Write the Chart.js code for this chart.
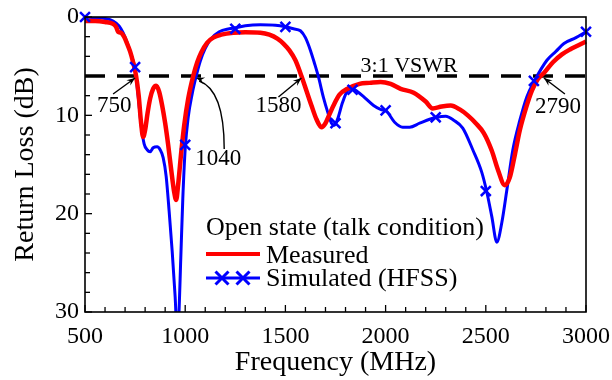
<!DOCTYPE html>
<html>
<head>
<meta charset="utf-8">
<script src="https://cdn.jsdelivr.net/npm/chart.js@4.4.1/dist/chart.umd.min.js"></script>
<style>
  html, body { margin: 0; padding: 0; background: #fff; }
  #chart { display: block; }
</style>
</head>
<body>
<canvas id="chart" width="612" height="380"></canvas>
<script>
// Measured return loss (red curve)
const measFreq = [500, 550, 600, 640, 655, 665, 680, 695, 710, 725, 740, 755, 768, 780, 790, 800, 812, 825, 840, 855,
  870, 885, 900, 915, 930, 945, 955, 965, 980, 995, 1015, 1040, 1060, 1080, 1110, 1140, 1180, 1240, 1300, 1375,
  1420, 1460, 1490, 1520, 1550, 1580, 1605, 1630, 1655, 1680, 1700, 1720, 1740, 1770, 1810, 1870, 1920, 1975, 2025, 2075,
  2140, 2200, 2235, 2280, 2325, 2370, 2410, 2450, 2490, 2530, 2560, 2595, 2620, 2645, 2670, 2700, 2730, 2760, 2790, 2835,
  2880, 2920, 2960, 3000];
const measLoss = [0.4, 0.4, 0.5, 0.7, 1.0, 1.5, 1.6, 2.0, 2.7, 3.5, 4.6, 6.0, 8.0, 10.8, 12.2, 11.5, 9.8, 8.3, 7.3, 7.0,
  7.6, 9.0, 10.8, 13.0, 15.5, 17.8, 18.6, 17.0, 13.8, 11.0, 8.3, 6.0, 4.6, 3.6, 2.6, 2.1, 1.8, 1.6, 1.55, 1.6,
  1.8, 2.2, 2.7, 3.4, 4.4, 6.0, 7.5, 9.0, 10.4, 11.2, 10.8, 9.9, 9.0, 7.9, 7.3, 6.8, 6.7, 6.6, 6.8, 7.3,
  7.7, 8.6, 9.3, 9.1, 9.0, 9.4, 10.0, 10.8, 11.8, 13.6, 15.5, 17.1, 16.3, 14.0, 11.5, 9.3, 7.5, 6.3, 5.7, 4.6,
  3.8, 3.3, 2.9, 2.5];

// Simulated (HFSS) return loss (blue curve)
const simFreq = [500, 550, 600, 640, 670, 690, 710, 730, 750, 765, 780, 795, 810, 825, 840, 860, 875, 890, 905, 920,
  935, 950, 960, 968, 978, 988, 1000, 1015, 1035, 1055, 1075, 1100, 1130, 1170, 1220, 1250, 1300, 1375, 1450, 1500,
  1540, 1575, 1600, 1625, 1645, 1665, 1690, 1710, 1730, 1745, 1760, 1785, 1810, 1835, 1860, 1890, 1940, 1975, 2005, 2045,
  2085, 2120, 2170, 2220, 2255, 2300, 2340, 2385, 2435, 2480, 2505, 2530, 2555, 2580, 2605, 2635, 2670, 2705, 2740, 2805,
  2850, 2890, 2950, 3000];
const simLoss = [0.0, 0.05, 0.15, 0.4, 0.9, 1.6, 2.6, 3.8, 5.3, 8.0, 11.0, 12.9, 13.5, 13.7, 13.3, 13.2, 13.5, 14.3, 16.2, 19.8,
  23.8, 28.5, 32.5, 30.5, 24.5, 18.5, 13.4, 10.2, 7.8, 6.0, 4.5, 3.2, 2.2, 1.5, 1.2, 1.1, 0.9, 0.8, 0.85, 1.0,
  1.2, 1.4, 2.1, 3.4, 4.7, 6.1, 8.2, 9.6, 10.8, 11.0, 10.4, 8.7, 7.5, 7.3, 7.6, 8.1, 9.0, 9.4, 9.6, 10.7,
  11.2, 11.2, 10.8, 10.4, 10.2, 10.1, 10.5, 11.3, 13.5, 15.8, 17.8, 20.3, 22.9, 20.9, 17.6, 13.5, 10.5, 8.1, 6.6, 4.4,
  3.5, 2.7, 2.1, 1.5];

// cross markers on the simulated curve
const markFreq = [500, 750, 1000, 1250, 1500, 1750, 1835, 2000, 2250, 2500, 2740, 3000];
const markLoss = [0.0, 5.1, 13.0, 1.2, 1.0, 10.8, 7.4, 9.5, 10.2, 17.7, 6.5, 1.5];

// 3:1 VSWR reference level
const vswrFreq = [500, 3000];
const vswrLoss = [6, 6];

// band edge call-outs
const edgeFreq = [750, 1040, 1580, 2790];
const edgeLabels = ['750', '1040', '1580', '2790'];

const xTicks = [500, 1000, 1500, 2000, 2500, 3000];
const yTicks = [0, 10, 20, 30];
const seriesNames = ['Measured', 'Simulated (HFSS)'];
const legendTitle = 'Open state (talk condition)';
const vswrText = '3:1 VSWR';

const RED = '#ff0000';
const BLUE = '#0000ff';
const SERIF = '"Liberation Serif", "Times New Roman", serif';

const pts = (xs, ys) => xs.map((v, i) => ({ x: v, y: ys[i] }));

function drawX(ctx, x, y, r) {
    ctx.beginPath();
    ctx.moveTo(x - r, y - r); ctx.lineTo(x + r, y + r);
    ctx.moveTo(x - r, y + r); ctx.lineTo(x + r, y - r);
    ctx.stroke();
}

function arrowHead(ctx, fromX, fromY, toX, toY) {
    const ang = Math.atan2(toY - fromY, toX - fromX);
    const len = 9, wid = 0.38;
    ctx.beginPath();
    ctx.moveTo(toX, toY);
    ctx.lineTo(toX - len * Math.cos(ang - wid), toY - len * Math.sin(ang - wid));
    ctx.lineTo(toX - len * 0.6 * Math.cos(ang), toY - len * 0.6 * Math.sin(ang));
    ctx.lineTo(toX - len * Math.cos(ang + wid), toY - len * Math.sin(ang + wid));
    ctx.closePath();
    ctx.fill();
}

// frame, inward ticks, call-outs and legend
const decorations = {
    id: 'decorations',
    afterDraw(chart) {
        const { ctx, chartArea: a, scales: { x, y } } = chart;
        ctx.save();
        ctx.strokeStyle = '#000';
        ctx.fillStyle = '#000';

        // inward ticks
        ctx.lineWidth = 1.3;
        for (let f = 500; f <= 3000; f += 100) {
            const px = x.getPixelForValue(f);
            const len = xTicks.includes(f) ? 7 : 5;
            ctx.beginPath(); ctx.moveTo(px, a.bottom); ctx.lineTo(px, a.bottom - len); ctx.stroke();
        }
        for (let d = 0; d <= 30; d += 2) {
            const py = y.getPixelForValue(d);
            const len = yTicks.includes(d) ? 7 : 5;
            ctx.beginPath(); ctx.moveTo(a.left, py); ctx.lineTo(a.left + len, py); ctx.stroke();
        }
        ctx.lineWidth = 1.6;
        ctx.strokeRect(a.left, a.top, a.right - a.left, a.bottom - a.top);

        // VSWR text
        const y6 = y.getPixelForValue(6);
        ctx.font = '22px ' + SERIF;
        ctx.textBaseline = 'alphabetic';
        ctx.textAlign = 'left';
        ctx.fillText(vswrText, x.getPixelForValue(1875), y6 - 4);

        // call-out arrows
        ctx.font = '23px ' + SERIF;
        ctx.lineWidth = 1.4;
        const tails = [[-22, 16], [28, 71], [-23, 19], [21, 16]];
        const labelPos = [[-38, 36], [2, 89], [-46, 36], [-9, 37]];
        edgeFreq.forEach((f, i) => {
            const tx = x.getPixelForValue(f) + (i === 1 ? 3 : 0);
            const ty = y6 + 2;
            const sx = tx + tails[i][0], sy = ty + tails[i][1];
            ctx.beginPath();
            if (i === 1) {
                const cx = sx, cy = ty + 12;
                ctx.moveTo(sx, sy);
                ctx.quadraticCurveTo(cx, cy, tx + 3, ty + 3);
                ctx.stroke();
                arrowHead(ctx, cx - 4, cy - 4, tx, ty);
            } else {
                ctx.moveTo(sx, sy);
                ctx.lineTo(tx, ty);
                ctx.stroke();
                arrowHead(ctx, sx, sy, tx, ty);
            }
            ctx.fillText(edgeLabels[i], x.getPixelForValue(f) + labelPos[i][0], y6 + labelPos[i][1]);
        });

        // legend
        const lx = 206;
        ctx.font = '26px ' + SERIF;
        ctx.fillText(legendTitle, lx, 235);
        ctx.lineCap = 'butt';
        ctx.strokeStyle = RED; ctx.lineWidth = 4;
        ctx.beginPath(); ctx.moveTo(lx, 254); ctx.lineTo(lx + 54, 254); ctx.stroke();
        ctx.fillText(chart.data.datasets[0].label, lx + 60, 263);
        ctx.strokeStyle = BLUE; ctx.lineWidth = 3;
        ctx.beginPath(); ctx.moveTo(lx, 278); ctx.lineTo(lx + 54, 278); ctx.stroke();
        drawX(ctx, lx + 16, 278, 6.5);
        drawX(ctx, lx + 37, 278, 6.5);
        ctx.fillText(chart.data.datasets[1].label, lx + 60, 286);
        ctx.restore();
    }
};

new Chart(document.getElementById('chart'), {
    type: 'line',
    data: {
        datasets: [{
            label: seriesNames[0],
            data: pts(measFreq, measLoss),
            borderColor: RED,
            borderWidth: 4.5,
            pointRadius: 0,
            cubicInterpolationMode: 'monotone',
            clip: 2,
            order: 1
        }, {
            label: seriesNames[1],
            data: pts(simFreq, simLoss),
            borderColor: BLUE,
            borderWidth: 3,
            pointRadius: 0,
            cubicInterpolationMode: 'monotone',
            clip: 0,
            order: 2
        }, {
            label: 'markers',
            data: pts(markFreq, markLoss),
            showLine: false,
            pointStyle: 'crossRot',
            pointRadius: 7,
            borderColor: BLUE,
            pointBorderWidth: 2.5,
            clip: false,
            order: 0
        }, {
            label: 'vswr',
            data: pts(vswrFreq, vswrLoss),
            borderColor: '#000',
            borderWidth: 3.5,
            borderDash: [20, 12],
            pointRadius: 0,
            clip: false,
            order: 3
        }]
    },
    options: {
        responsive: false,
        animation: false,
        devicePixelRatio: 1,
        layout: { padding: { left: 0, right: 26, top: 17, bottom: 0 } },
        plugins: { legend: { display: false }, tooltip: { enabled: false } },
        scales: {
            x: {
                type: 'linear',
                min: 500, max: 3000,
                afterBuildTicks: s => { s.ticks = xTicks.map(v => ({ value: v })); },
                afterFit: s => { s.height = 68; s.paddingLeft = 0; s.paddingRight = 0; },
                grid: { display: false, drawTicks: false },
                border: { display: false },
                ticks: { color: '#000', padding: 10, font: { family: SERIF, size: 24 }, maxRotation: 0, callback: v => String(v) },
                title: { display: true, text: 'Frequency (MHz)', color: '#000', font: { family: SERIF, size: 28 }, padding: { top: 0, bottom: 1 } }
            },
            y: {
                reverse: true,
                min: 0, max: 30,
                afterBuildTicks: s => { s.ticks = yTicks.map(v => ({ value: v })); },
                afterFit: s => { s.width = 85; s.paddingTop = 0; s.paddingBottom = 0; },
                grid: { display: false, drawTicks: false },
                border: { display: false },
                ticks: { color: '#000', padding: 6, font: { family: SERIF, size: 24 }, callback: v => String(v) },
                title: { display: true, text: 'Return Loss (dB)', color: '#000', font: { family: SERIF, size: 28 }, padding: { top: 9, bottom: 0 } }
            }
        }
    },
    plugins: [decorations]
});
</script>
</body>
</html>
